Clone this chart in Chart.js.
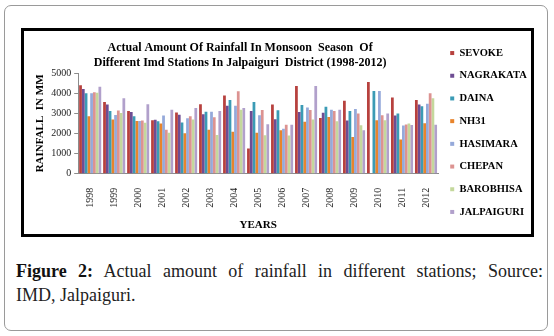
<!DOCTYPE html>
<html>
<head>
<meta charset="utf-8">
<script src="https://cdn.jsdelivr.net/npm/chart.js@4.4.1/dist/chart.umd.min.js"></script>
<style>
    html, body { margin: 0; padding: 0; background: #fff; }
    body { width: 554px; height: 336px; position: relative; overflow: hidden; font-family: 'Liberation Serif', 'Times New Roman', serif; }
    .outer { position: absolute; left: 4px; top: 5px; width: 542px; height: 324px; border: 1.5px solid #9a9a9a; border-radius: 7px; }
    .frame { position: absolute; left: 21px; top: 28px; width: 507px; height: 203px; border: 3px solid #000; background: #fff; }
    .chartBox { position: absolute; left: 0; top: 0; width: 507px; height: 203px; }
    .caption { position: absolute; left: 16px; top: 259px; width: 527px; font-size: 18px; line-height: 24px; color: #222; }
    .caption .l1 { text-align: justify; text-align-last: justify; }
    .caption b { font-weight: bold; color: #111; }
</style>
</head>
<body>
<div class="outer"></div>
<div class="frame">
    <div class="chartBox"><canvas id="chartChuva"></canvas></div>
</div>
<div class="caption">
    <div class="l1"><b>Figure 2:</b> Actual amount of rainfall in different stations; Source:</div>
    <div>IMD, Jalpaiguri.</div>
</div>

<script>
const anos = ['1998','1999','2000','2001','2002','2003','2004','2005','2006','2007','2008','2009','2010','2011','2012'];

const sevoke     = [4390, 3560, 3110, 2660, 3040, 3450, 3880, 1250, 3440, 4360, 2770, 3620, 4550, 3790, 3660];
const nagrakata  = [4210, 3440, 3070, 2680, 2930, 2960, 3380, 3110, 2710, 3070, 3030, 2640, null, 2890, 3440];
const daina      = [3990, 3110, 2860, 2610, 2540, 3080, 3660, 3560, 3150, 3410, 3330, 3120, 4110, 2990, 3350];
const nh31       = [2860, 2690, 2620, 2490, 2010, 2190, 2080, 2040, 2160, 2580, 2820, 1830, 2660, 1700, 2510];
const hasimara   = [3990, 2920, 2620, 2890, 2750, 3080, 3380, 2900, 2230, 3290, 3180, 3210, 4110, 2400, 3470];
const chepan     = [4050, 3140, 2650, 2190, 2860, 2810, 4090, 3170, 2430, 3170, 3110, 2990, 2900, 2450, 3990];
const barobhisa  = [4020, 3020, 2530, 2040, 2690, 1920, 3180, 1910, 1900, 2690, 2610, 2410, 2660, 2500, 3750];
const jalpaiguri = [4320, 3750, 3450, 3180, 3260, 3120, 3260, 2460, 2430, 4360, 3180, 2160, 2990, 2420, 2430];

const estacoes = ['SEVOKE','NAGRAKATA','DAINA','NH31','HASIMARA','CHEPAN','BAROBHISA','JALPAIGURI'];
const series = [sevoke, nagrakata, daina, nh31, hasimara, chepan, barobhisa, jalpaiguri];
const cores = ['#B7413E','#6E4D93','#3B9BB5','#E8842C','#95A9DA','#DC9391','#C4D89C','#B1A0CB'];

const tituloLinhas = ['Actual Amount Of Rainfall In Monsoon  Season  Of', 'Different Imd Stations In Jalpaiguri  District (1998-2012)'];
const fonte = "'Liberation Serif', 'Times New Roman', serif";

Chart.defaults.font.family = fonte;

// titulo desenhado a mao (o do Chart.js fica centrado no lugar errado)
const tituloPlugin = {
    id: 'tituloPlugin',
    afterDraw(chart) {
        const { ctx, chartArea } = chart;
        ctx.save();
        ctx.font = 'bold 12px ' + fonte;
        ctx.fillStyle = '#000';
        ctx.textAlign = 'center';
        ctx.textBaseline = 'middle';
        const cx = chartArea.left + chartArea.width * 0.45;
        tituloLinhas.forEach((t, i) => ctx.fillText(t, cx, 17 + i * 15));
        ctx.restore();
    }
};

new Chart(document.getElementById('chartChuva'), {
    type: 'bar',
    data: {
        labels: anos,
        datasets: estacoes.map((nome, i) => ({
            label: nome,
            data: series[i],
            backgroundColor: cores[i],
            borderWidth: 0,
            categoryPercentage: 0.92,
            barPercentage: 1.0
        }))
    },
    options: {
        responsive: true,
        maintainAspectRatio: false,
        animation: false,
        layout: { padding: { left: 9, right: 0, top: 0, bottom: 0 } },
        plugins: {
            title: { display: false },
            tooltip: { enabled: false },
            legend: {
                position: 'right',
                maxWidth: 93,
                labels: {
                    boxWidth: 4,
                    boxHeight: 4,
                    padding: 12.2,
                    color: '#000',
                    font: { family: fonte, size: 10.5, weight: 'bold' }
                }
            }
        },
        scales: {
            x: {
                grid: { display: false },
                border: { display: true, color: '#8c8c8c', width: 1 },
                ticks: {
                    autoSkip: false,
                    minRotation: 90,
                    maxRotation: 90,
                    padding: 6,
                    color: '#222',
                    font: { family: fonte, size: 10 }
                },
                title: {
                    display: true,
                    text: 'YEARS',
                    color: '#000',
                    font: { family: fonte, size: 11, weight: 'bold' },
                    padding: { top: 5, bottom: 2 }
                }
            },
            y: {
                min: 0,
                max: 5000,
                afterFit(scale) { scale.paddingTop = 42; },
                grid: { drawOnChartArea: false, tickLength: 4, color: '#8c8c8c' },
                border: { display: true, color: '#8c8c8c', width: 1 },
                ticks: {
                    stepSize: 500,
                    padding: 3,
                    color: '#222',
                    font: { family: fonte, size: 10 },
                    callback: v => String(v)
                },
                title: {
                    display: true,
                    text: 'RAINFALL  IN MM',
                    color: '#000',
                    font: { family: fonte, size: 11, weight: 'bold' },
                    padding: 1
                }
            }
        }
    },
    plugins: [tituloPlugin]
});
</script>
</body>
</html>
